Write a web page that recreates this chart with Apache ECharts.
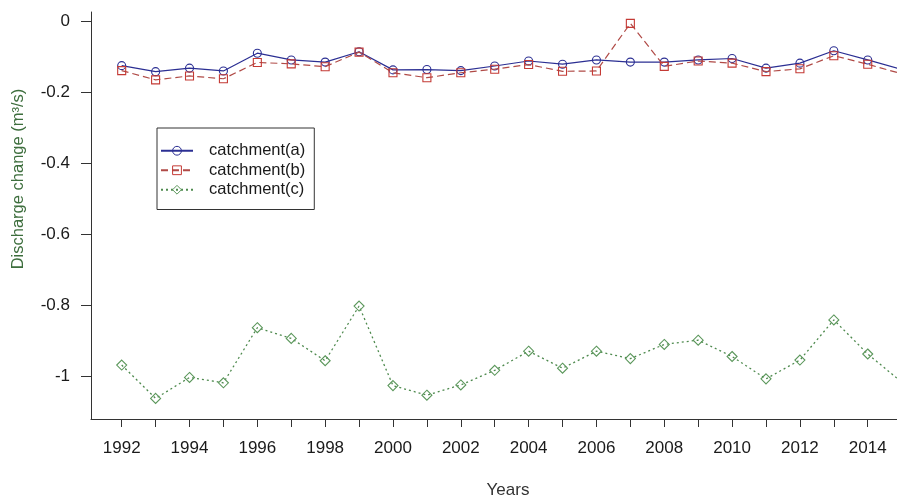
<!DOCTYPE html>
<html>
<head>
<meta charset="utf-8">
<title>Discharge change by catchment</title>
<script src="https://cdn.jsdelivr.net/npm/echarts@6/dist/echarts.min.js"></script>
<style>
  html, body { margin: 0; padding: 0; background: #fff; }
  #chart { width: 897px; height: 499px; }
</style>
</head>
<body>
<div id="chart"></div>
<script>
// Yearly discharge change (m³/s) for three catchments
const years = [1992, 1993, 1994, 1995, 1996, 1997, 1998, 1999, 2000, 2001, 2002, 2003,
               2004, 2005, 2006, 2007, 2008, 2009, 2010, 2011, 2012, 2013, 2014, 2015];

const catchmentA = [-0.124, -0.141, -0.131, -0.139, -0.089, -0.108, -0.114, -0.085,
                    -0.136, -0.135, -0.138, -0.125, -0.111, -0.120, -0.108, -0.114,
                    -0.114, -0.108, -0.104, -0.131, -0.117, -0.082, -0.108, -0.135];

const catchmentB = [-0.138, -0.164, -0.153, -0.161, -0.115, -0.119, -0.127, -0.086,
                    -0.144, -0.158, -0.144, -0.134, -0.121, -0.140, -0.139, -0.005,
                    -0.126, -0.111, -0.117, -0.141, -0.133, -0.096, -0.120, -0.147];

const catchmentC = [-0.967, -1.061, -1.002, -1.017, -0.862, -0.892, -0.955, -0.801,
                    -1.025, -1.052, -1.023, -0.982, -0.928, -0.976, -0.928, -0.949,
                    -0.909, -0.897, -0.943, -1.006, -0.953, -0.840, -0.936, -1.015];

const seriesNames = ['catchment(a)', 'catchment(b)', 'catchment(c)'];

// Axis ticks and labels
const xTickYears = [1992, 1993, 1994, 1995, 1996, 1997, 1998, 1999, 2000, 2001, 2002,
                    2003, 2004, 2005, 2006, 2007, 2008, 2009, 2010, 2011, 2012, 2013, 2014];
const xLabelYears = [1992, 1994, 1996, 1998, 2000, 2002, 2004, 2006, 2008, 2010, 2012, 2014];
const yTicks = [0, -0.2, -0.4, -0.6, -0.8, -1];

const xTitle = 'Years';
const yTitle = 'Discharge change (m\u00B3/s)';

const pairs = (vals) => years.map((yr, i) => [yr, vals[i]]);

const FONT = '"Liberation Sans", Arial, sans-serif';
const AXIS_COLOR = '#333';

const chart = echarts.init(document.getElementById('chart'), null, { renderer: 'canvas' });

chart.setOption({
  backgroundColor: '#fff',
  animation: false,
  textStyle: { fontFamily: FONT },
  grid: { left: 91, right: 0, top: 12, bottom: 80, containLabel: false },
  xAxis: {
    type: 'value',
    min: 1991.095,
    max: 2014.863,
    axisLine: { show: true, onZero: false, lineStyle: { color: AXIS_COLOR, width: 1 } },
    axisTick: { show: true, length: 8, customValues: xTickYears, lineStyle: { color: AXIS_COLOR } },
    axisLabel: {
      customValues: xLabelYears, margin: 21,
      fontSize: 17, color: '#1a1a1a', fontFamily: FONT,
      formatter: (v) => String(Math.round(v))
    },
    splitLine: { show: false }
  },
  yAxis: {
    type: 'value',
    min: -1.119,
    max: 0.027,
    axisLine: { show: true, onZero: false, lineStyle: { color: AXIS_COLOR, width: 1 } },
    axisTick: { show: true, length: 10, customValues: yTicks, lineStyle: { color: AXIS_COLOR } },
    axisLabel: {
      customValues: yTicks, margin: 21,
      fontSize: 17, color: '#1a1a1a', fontFamily: FONT,
      formatter: (v) => String(Math.round(v * 10) / 10)
    },
    splitLine: { show: false }
  },
  legend: {
    orient: 'vertical',
    left: 157,
    top: 128,
    data: seriesNames,
    borderColor: '#333',
    borderWidth: 1,
    padding: [13, 9, 10, 3],
    itemGap: 0,
    itemWidth: 32,
    itemHeight: 11,
    selectedMode: false,
    itemStyle: { borderWidth: 1 },
    textStyle: { fontSize: 16.5, lineHeight: 19.5, color: '#1a1a1a', fontFamily: FONT, padding: [0, 0, 0, 11] }
  },
  graphic: [
    {
      type: 'text',
      x: 18.5, y: 179,
      rotation: Math.PI / 2,
      style: {
        text: yTitle, fontSize: 16.5, fontFamily: FONT, fill: '#3d6e3d',
        align: 'center', verticalAlign: 'middle'
      }
    },
    {
      type: 'text',
      x: 508, y: 490,
      style: {
        text: xTitle, fontSize: 17, fontFamily: FONT, fill: '#333',
        align: 'center', verticalAlign: 'middle'
      }
    }
  ],
  series: [
    {
      name: seriesNames[0],
      type: 'line',
      data: pairs(catchmentA),
      clip: true,
      symbol: 'circle',
      symbolSize: 8,
      itemStyle: { color: 'rgba(255,255,255,0)', borderColor: '#2b2f93', borderWidth: 1.1 },
      lineStyle: { color: '#2b2f93', width: 1.2, type: 'solid' },
      z: 2
    },
    {
      name: seriesNames[1],
      type: 'line',
      data: pairs(catchmentB),
      clip: true,
      symbol: 'rect',
      symbolSize: 8,
      itemStyle: { color: 'rgba(255,255,255,0)', borderColor: '#c43a35', borderWidth: 1.1 },
      lineStyle: { color: '#b04a46', width: 1.2, type: [7, 4] },
      z: 3
    },
    {
      name: seriesNames[2],
      type: 'line',
      data: pairs(catchmentC),
      clip: true,
      symbol: 'diamond',
      symbolSize: 10,
      itemStyle: { color: 'rgba(255,255,255,0)', borderColor: '#5b975b', borderWidth: 1.1 },
      lineStyle: { color: '#4e8a4e', width: 1.3, type: [2, 3] },
      z: 4
    }
  ]
});
</script>
</body>
</html>
